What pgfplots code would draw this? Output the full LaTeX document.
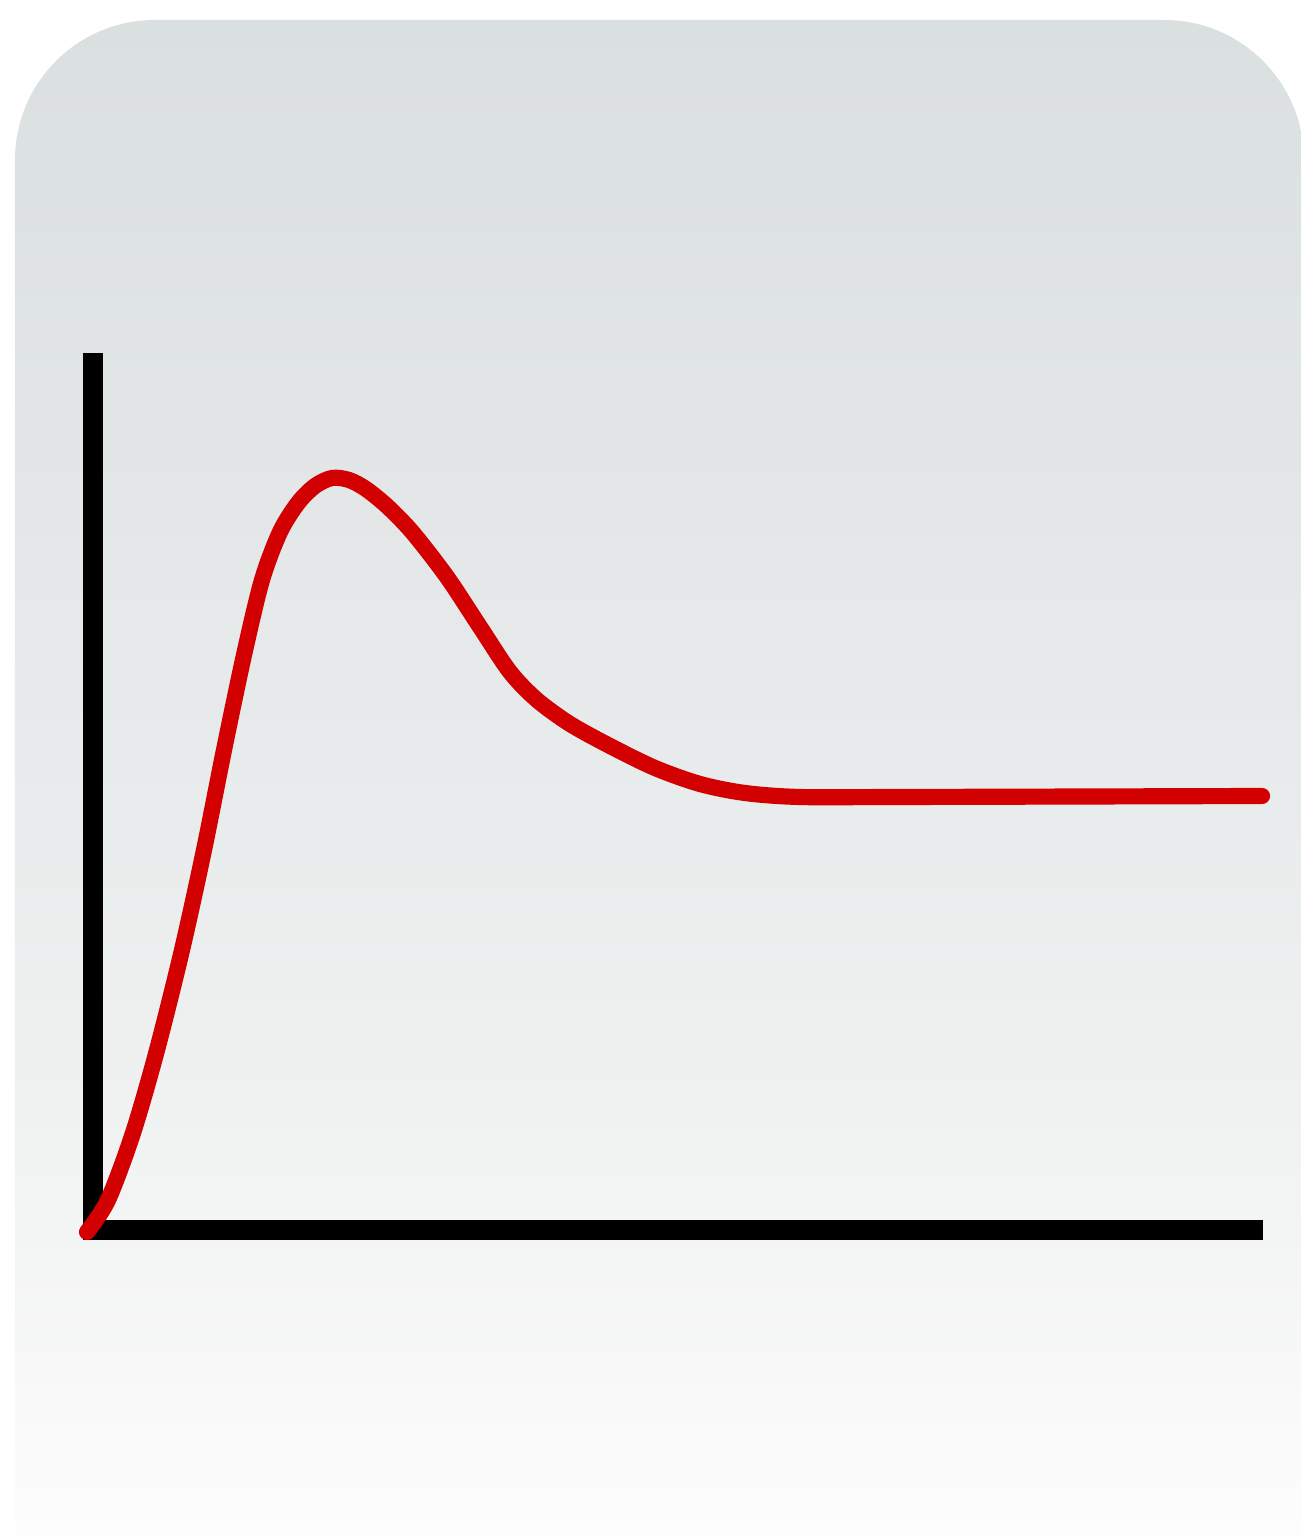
\documentclass[border=0pt]{standalone}
\usepackage{pgfplots}
\pgfplotsset{compat=1.18}
\definecolor{curvered}{RGB}{210,0,0}
\definecolor{bgtop}{RGB}{218,223,224}
\definecolor{bgmid}{RGB}{233,236,236}
\definecolor{bglow}{RGB}{243,244,244}
\definecolor{bgbot}{RGB}{253,253,253}
\pgfdeclareverticalshading{bg}{100bp}{color(0bp)=(bgbot); color(25bp)=(bgbot); color(35bp)=(bglow); color(49bp)=(bgmid); color(75bp)=(bgtop); color(100bp)=(bgtop)}
\begin{document}
\begin{tikzpicture}
\useasboundingbox (0,0) rectangle (13,15.37);
\begin{scope}
\clip[rounded corners=1.4cm] (0.15,-2) rectangle (13.04,15.17);
\shade[shading=bg] (0.15,0) rectangle (13.04,15.17);
\end{scope}
\begin{axis}[at={(0,0)}, anchor=south west, scale only axis,
  width=13cm, height=15.37cm,
  xmin=0, xmax=1300, ymin=0, ymax=1537, y dir=reverse,
  hide axis, clip=false]
% axes
\addplot[black, line width=5.7pt, line cap=butt] coordinates {(93,353) (93,1240)};
\addplot[black, line width=5.7pt, line cap=butt] coordinates {(83,1230) (1263,1230)};
% curve
\addplot[curvered, line width=4.6pt, smooth, line cap=round] coordinates {
(87,1232) (108,1200) (133,1133) (157,1050) (182,950) (204,850) (224,750)
(244,655) (262,580) (280,532) (298,503) (315,486) (332,478) (349,480)
(366,489) (388,507) (413,533) (447,577) (480,627) (510,672) (537,700)
(570,724) (610,746) (655,768) (700,784) (745,793) (800,797) (900,797)
(1262,796)
};
\end{axis}
\end{tikzpicture}
\end{document}
